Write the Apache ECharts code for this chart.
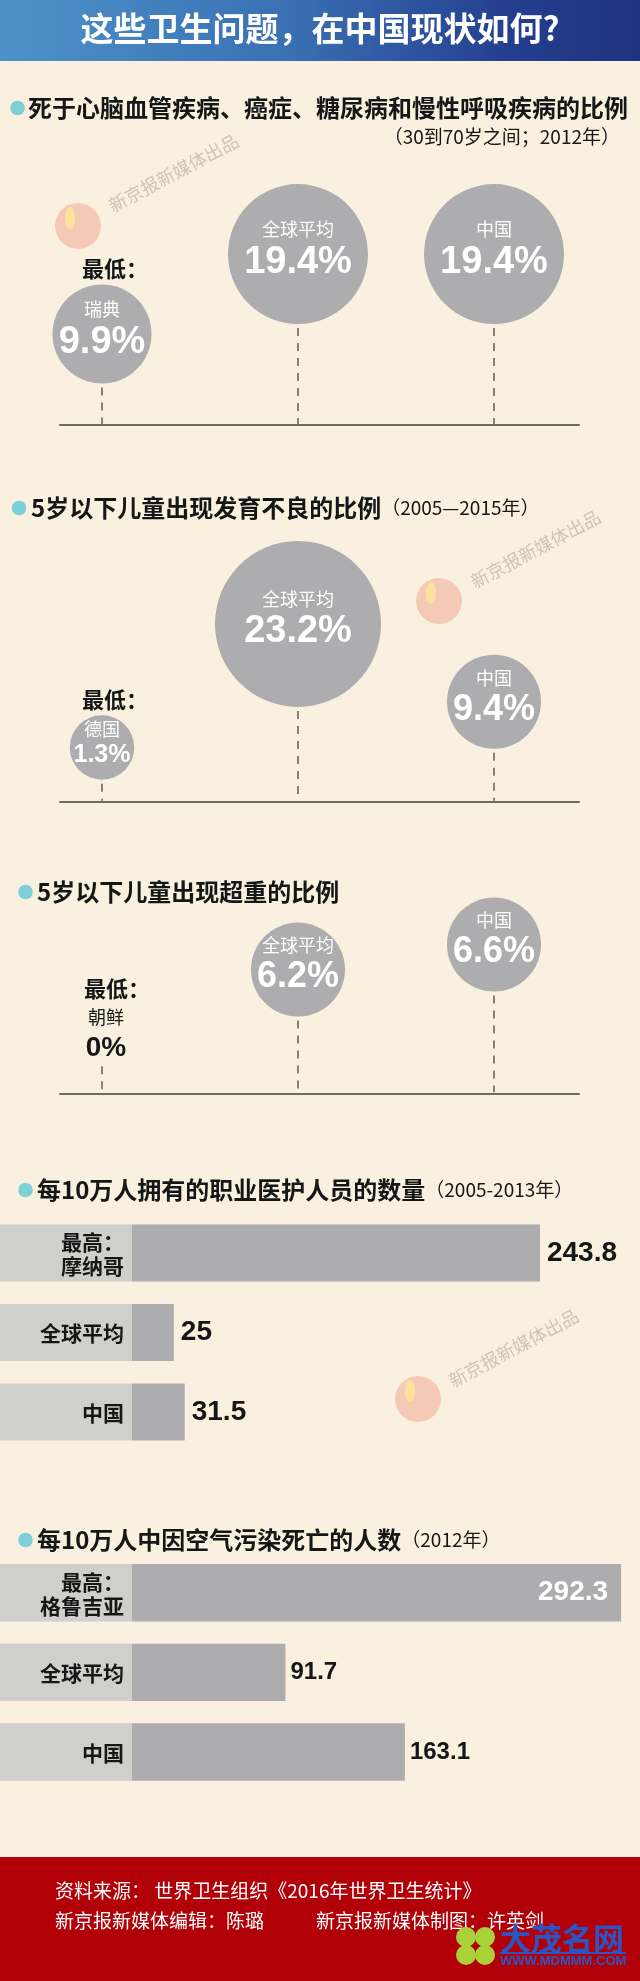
<!DOCTYPE html>
<html><head><meta charset="utf-8">
<script src="https://cdn.jsdelivr.net/npm/echarts@6/dist/echarts.min.js"></script>
<style>html,body{margin:0;padding:0;background:#FAF0DF;} #c{width:640px;height:1981px;}</style>
</head><body><div id="c"></div>
<script>
// ---------------- data ----------------
const headerTitle = '这些卫生问题，在中国现状如何?';
const s1Title = '死于心脑血管疾病、癌症、糖尿病和慢性呼吸疾病的比例';
const s1Sub = '（30到70岁之间；2012年）';
const s1Names = ['瑞典', '全球平均', '中国'];
const s1Values = [9.9, 19.4, 19.4];
const s2Title = '5岁以下儿童出现发育不良的比例';
const s2Sub = '（2005—2015年）';
const s2Names = ['德国', '全球平均', '中国'];
const s2Values = [1.3, 23.2, 9.4];
const s3Title = '5岁以下儿童出现超重的比例';
const s3Names = ['朝鲜', '全球平均', '中国'];
const s3Values = [0, 6.2, 6.6];
const s4Title = '每10万人拥有的职业医护人员的数量';
const s4Sub = '（2005-2013年）';
const s4Names = ['摩纳哥', '全球平均', '中国'];
const s4Values = [243.8, 25, 31.5];
const s5Title = '每10万人中因空气污染死亡的人数';
const s5Sub = '（2012年）';
const s5Names = ['格鲁吉亚', '全球平均', '中国'];
const s5Values = [292.3, 91.7, 163.1];
const lowLabel = '最低：';
const highLabel = '最高：';
const sourceText = '资料来源： 世界卫生组织《2016年世界卫生统计》';
const editorText = '新京报新媒体编辑：陈璐';
const designText = '新京报新媒体制图：许英剑';
const watermarkText = '新京报新媒体出品';
const siteName = '大茂名网';
const siteUrl = 'WWW.MDMMM.COM';

// ---------------- styles / layout ----------------
const W = 640;
const CJK = '"Noto Sans CJK SC", "Noto Sans", sans-serif';
const NUM = '"Liberation Sans", Arial, sans-serif';
const INK = '#161616';
const BUBBLE = '#adacae';
const BAND = '#cfd0cc';
const DOT = '#7fcfd9';
const BUBBLE_D = [[99, 140, 140], [64.5, 166, 94], [0, 94, 94]];
const BUBBLE_Y = [{min: -0.9, max: 30}, {min: -8.3, max: 40}, {min: 4.22, max: 8}];
const BUBBLE_X = {min: -0.2143, max: 2.4337};
const grids = [
  {left: 60, width: 519, top: 164.8, height: 260.2},
  {left: 60, width: 519, top: 529.05, height: 272.65},
  {left: 60, width: 519, top: 857.05, height: 236.25},
  {left: 132, width: 502, top: 1213.25, height: 238.5},
  {left: 132, width: 502, top: 1552.9, height: 238.95}
];

const mctx = document.createElement('canvas').getContext('2d');
function measure(str, font) { mctx.font = font; return mctx.measureText(str).width; }

function txt(x, y, text, st, extra) {
  const style = Object.assign({text: text, verticalAlign: 'middle', textVerticalAlign: 'middle'}, st);
  style.textAlign = style.align;
  return Object.assign({type: 'text', x: x, y: y, style: style}, extra || {});
}

function bubbleSeries(k, names, values) {
  const minIdx = values.indexOf(Math.min.apply(null, values));
  const diam = BUBBLE_D[k];
  return {
    type: 'custom', xAxisIndex: k, yAxisIndex: k, clip: false, silent: true,
    data: values.map((v, i) => [i, v]),
    renderItem(params, api) {
      const i = params.dataIndex;
      const v = api.value(1);
      const base = api.coord([i, BUBBLE_Y[k].min]);
      const x = base[0], by = base[1];
      const d = diam[i];
      const ch = [];
      const dash = {stroke: '#3a3a3a', lineWidth: 1.2, lineDash: [8, 7], fill: null};
      if (d > 0) {
        const cy = api.coord([i, v])[1];
        ch.push({type: 'line', shape: {x1: x, y1: cy + d / 2 + 4, x2: x, y2: by - 1}, style: dash});
        ch.push({type: 'circle', shape: {cx: x, cy: cy, r: d / 2}, style: {fill: BUBBLE}});
        const vf = Math.min(38, Math.round(d * 0.38));
        const vy = cy + 8;
        const ny = vy - (vf / 2 + 14);
        ch.push(txt(x, ny, names[i], {fontSize: 18, fontFamily: CJK, fill: '#fff', align: 'center'}));
        ch.push(txt(x, vy, v + '%', {fontSize: vf, fontWeight: 'bold', fontFamily: NUM, fill: '#fff', align: 'center'}));
        if (i === minIdx) ch.push(txt(x - 20, cy - d / 2 - 16, lowLabel, {fontSize: 22, fontWeight: 'bold', fontFamily: CJK, fill: INK, align: 'left'}));
      } else {
        ch.push({type: 'line', shape: {x1: x, y1: by - 27, x2: x, y2: by - 1}, style: dash});
        ch.push(txt(x + 4, by - 45, v + '%', {fontSize: 28, fontWeight: 'bold', fontFamily: NUM, fill: INK, align: 'center'}));
        ch.push(txt(x + 4, by - 76, names[i], {fontSize: 18, fontFamily: CJK, fill: INK, align: 'center'}));
        if (i === minIdx) ch.push(txt(x - 18, by - 105, lowLabel, {fontSize: 22, fontWeight: 'bold', fontFamily: CJK, fill: INK, align: 'left'}));
      }
      return {type: 'group', children: ch};
    }
  };
}

function barSeries(k, names, values, cfg) {
  const maxIdx = values.indexOf(Math.max.apply(null, values));
  return {
    type: 'custom', xAxisIndex: k, yAxisIndex: k, clip: false, silent: true,
    data: values.map((v, i) => [v, i]),
    renderItem(params, api) {
      const i = params.dataIndex;
      const v = api.value(0);
      const s = api.coord([0, i]);
      const e = api.coord([v, i]);
      const h = api.size([0, 1])[1] * 0.72;
      const top = s[1] - h / 2;
      const ch = [
        {type: 'rect', shape: {x: 0, y: top, width: s[0], height: h}, style: {fill: BAND}},
        {type: 'rect', shape: {x: s[0], y: top, width: e[0] - s[0], height: h}, style: {fill: BUBBLE}}
      ];
      const label = (i === maxIdx ? highLabel + '\n' : '') + names[i];
      ch.push(txt(s[0] - 8, s[1] + 1, label, {fontSize: 21, fontWeight: 'bold', fontFamily: CJK, fill: INK, align: 'right', lineHeight: 24}));
      const str = String(v);
      const font = cfg.weight + ' ' + cfg.size + 'px ' + NUM;
      const w = measure(str, font);
      if (e[0] + cfg.gap + w > W - 4) {
        ch.push(txt(e[0] - 13, s[1], str, {fontSize: cfg.size + 4, fontWeight: cfg.weight, fontFamily: NUM, fill: '#fff', align: 'right'}));
      } else {
        ch.push(txt(e[0] + cfg.gap, s[1], str, {fontSize: cfg.size, fontWeight: cfg.weight, fontFamily: NUM, fill: INK, align: 'left'}));
      }
      return {type: 'group', children: ch};
    }
  };
}

function sectionTitle(dotX, textX, y, title, sub) {
  const els = [{type: 'circle', shape: {cx: dotX, cy: y, r: 7.3}, style: {fill: DOT}}];
  let text = '{t|' + title + '}' + (sub ? '{s|' + sub + '}' : '');
  els.push({type: 'text', x: textX, y: y, style: {
    text: text, verticalAlign: 'middle', textVerticalAlign: 'middle', align: 'left', textAlign: 'left',
    rich: {
      t: {fontSize: 24, fontWeight: 'bold', fontFamily: CJK, fill: INK, color: INK},
      s: {fontSize: 19, fontFamily: CJK, fill: INK, color: INK}
    }
  }});
  return els;
}

function watermark(lx, ly, tx, ty) {
  return [
    {type: 'circle', shape: {cx: lx, cy: ly, r: 23}, style: {fill: 'rgba(236,150,128,0.42)'}},
    {type: 'ellipse', shape: {cx: lx - 8, cy: ly - 8, rx: 5, ry: 11}, style: {fill: 'rgba(255,230,150,0.85)'}},
    {type: 'text', x: tx, y: ty, rotation: 0.49, style: {text: watermarkText, fontSize: 18, fontFamily: CJK, fill: 'rgba(190,180,170,0.75)', align: 'left', textAlign: 'left', verticalAlign: 'middle', textVerticalAlign: 'middle'}}
  ];
}

const graphics = [].concat(
  [{type: 'rect', shape: {x: 0, y: 0, width: W, height: 61}, style: {
    fill: new echarts.graphic.LinearGradient(0, 0, 1, 0, [
      {offset: 0, color: '#4c93c9'}, {offset: 0.45, color: '#3a70b4'},
      {offset: 0.8, color: '#243e8d'}, {offset: 1, color: '#1e3380'}])}},
   txt(320, 28, headerTitle, {fontSize: 33, fontWeight: 'bold', fontFamily: CJK, fill: '#fff', align: 'center'})],
  watermark(78, 226, 110, 207),
  watermark(439, 601, 472, 583),
  watermark(418, 1399, 450, 1382),
  sectionTitle(17.5, 28, 108, s1Title, null),
  [txt(620, 137, s1Sub, {fontSize: 19, fontFamily: CJK, fill: INK, align: 'right'})],
  sectionTitle(19, 31, 508, s2Title, s2Sub),
  sectionTitle(25.5, 37, 892, s3Title, null),
  sectionTitle(25.5, 37, 1190, s4Title, s4Sub),
  sectionTitle(25.5, 37, 1540, s5Title, s5Sub),
  [
    {type: 'rect', shape: {x: 0, y: 1857, width: W, height: 124}, style: {fill: '#b10007'}},
    txt(55, 1891, sourceText, {fontSize: 19, fontFamily: CJK, fill: '#fff', align: 'left'}),
    txt(55, 1921, editorText, {fontSize: 19, fontFamily: CJK, fill: '#fff', align: 'left'}),
    txt(316, 1921, designText, {fontSize: 19, fontFamily: CJK, fill: '#fff', align: 'left'}),
    {type: 'circle', shape: {cx: 466, cy: 1937, r: 10}, style: {fill: '#a9d238'}},
    {type: 'circle', shape: {cx: 485, cy: 1937, r: 10}, style: {fill: '#a9d238'}},
    {type: 'circle', shape: {cx: 466, cy: 1955, r: 10}, style: {fill: '#a9d238'}},
    {type: 'circle', shape: {cx: 485, cy: 1955, r: 10}, style: {fill: '#a9d238'}},
    txt(500, 1938, siteName, {fontSize: 31, fontWeight: 'bold', fontFamily: CJK, fill: '#2d55c2', align: 'left'}),
    {type: 'rect', shape: {x: 500, y: 1952, width: 126, height: 2}, style: {fill: '#2d55c2'}},
    txt(500, 1961, siteUrl, {fontSize: 13, fontWeight: 'bold', fontFamily: NUM, fill: '#2d55c2', align: 'left'})
  ]
);

const hidden = {show: false};
const xAxes = [], yAxes = [];
for (let k = 0; k < 3; k++) {
  xAxes.push({gridIndex: k, type: 'value', min: BUBBLE_X.min, max: BUBBLE_X.max,
    axisLine: {show: true, onZero: false, lineStyle: {color: '#6d6a62', width: 2}},
    axisTick: hidden, axisLabel: hidden, splitLine: hidden});
  yAxes.push({gridIndex: k, type: 'value', min: BUBBLE_Y[k].min, max: BUBBLE_Y[k].max, show: false, splitLine: hidden});
}
xAxes.push({gridIndex: 3, type: 'value', min: 0, max: 300, show: false, splitLine: hidden});
yAxes.push({gridIndex: 3, type: 'category', data: s4Names, inverse: true, show: false});
xAxes.push({gridIndex: 4, type: 'value', min: 0, max: 300, show: false, splitLine: hidden});
yAxes.push({gridIndex: 4, type: 'category', data: s5Names, inverse: true, show: false});

const chart = echarts.init(document.getElementById('c'), null, {renderer: 'canvas'});
chart.setOption({
  backgroundColor: '#FAF0DF',
  animation: false,
  grid: grids.map(g => Object.assign({containLabel: false}, g)),
  xAxis: xAxes,
  yAxis: yAxes,
  graphic: {elements: graphics},
  series: [
    bubbleSeries(0, s1Names, s1Values),
    bubbleSeries(1, s2Names, s2Values),
    bubbleSeries(2, s3Names, s3Values),
    barSeries(3, s4Names, s4Values, {size: 28, weight: 'bold', gap: 7}),
    barSeries(4, s5Names, s5Values, {size: 24, weight: 'bold', gap: 5})
  ]
});
</script></body></html>
